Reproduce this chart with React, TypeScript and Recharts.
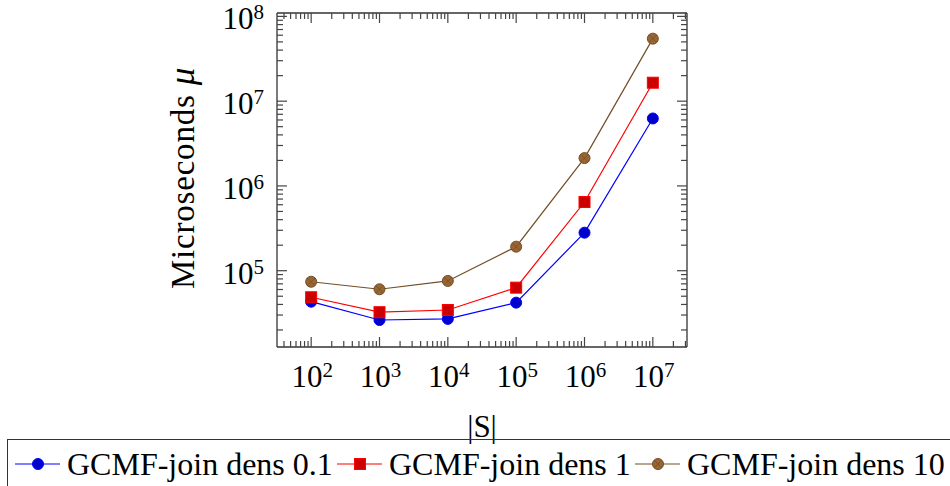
import React from 'react';
import { LineChart, Line, XAxis, YAxis } from 'recharts';

// |S| values and timings (microseconds) for each density
const sizes = [1e2, 1e3, 1e4, 1e5, 1e6, 1e7];
const dens01 = [43100, 26200, 27000, 42000, 281000, 6250000];
const dens1 = [48600, 32400, 34400, 63100, 646000, 16500000];
const dens10 = [74100, 60400, 75700, 192000, 2130000, 54600000];

const seriesNames = ['GCMF-join dens 0.1', 'GCMF-join dens 1', 'GCMF-join dens 10'];

const xDecades = [1, 2, 3, 4, 5, 6, 7];
const yDecades = [4, 5, 6, 7, 8];

const xDomain: [number, number] = [Math.pow(10, 1.5), Math.pow(10, 7.5)];
const yDomain: [number, number] = [Math.pow(10, 4.1), Math.pow(10, 8.04)];

const data = sizes.map((s, i) => ({ s, d01: dens01[i], d1: dens1[i], d10: dens10[i] }));

const FONT = '"Liberation Serif", "Times New Roman", serif';
const TICK_COLOR = '#444';

const buildTicks = (decades: number[], domain: [number, number]) => {
  const out: number[] = [];
  decades.forEach((k) => {
    for (let m = 1; m <= 9; m++) {
      const v = m * Math.pow(10, k);
      if (v >= domain[0] && v <= domain[1]) out.push(v);
    }
  });
  return out;
};

const xTicks = buildTicks(xDecades, xDomain);
const yTicks = buildTicks(yDecades, yDomain);

const majorExp = (v: number) => {
  const e = Math.round(Math.log10(v));
  return Math.abs(Math.pow(10, e) - v) < 1e-6 * v ? e : null;
};

const PowLabel = ({ x, y, exp, anchor }: { x: number; y: number; exp: number; anchor: 'middle' | 'end' }) => (
  <text x={x} y={y} textAnchor={anchor} fontFamily={FONT} fontSize={31} fill="#000">
    10
    <tspan dy={-10} fontSize={21}>{exp}</tspan>
  </text>
);

const XTick = ({ x, y, payload, top }: any) => {
  const e = majorExp(payload.value);
  const len = e !== null ? 10 : 6;
  const dir = top ? 1 : -1;
  return (
    <g>
      <line x1={x} x2={x} y1={y} y2={y + dir * len} stroke={TICK_COLOR} strokeWidth={1.2} />
      {!top && e !== null && <PowLabel x={x + 1} y={y + 40} exp={e} anchor="middle" />}
    </g>
  );
};

const YTick = ({ x, y, payload, right }: any) => {
  const e = majorExp(payload.value);
  const len = e !== null ? 10 : 6;
  const dir = right ? -1 : 1;
  return (
    <g>
      <line x1={x} x2={x + dir * len} y1={y} y2={y} stroke={TICK_COLOR} strokeWidth={1.2} />
      {!right && e !== null && <PowLabel x={x - 13} y={y + 13} exp={e} anchor="end" />}
    </g>
  );
};

const XTitle = ({ viewBox }: any) => (
  <text x={viewBox.x + viewBox.width / 2} y={viewBox.y + 90} textAnchor="middle" fontFamily={FONT} fontSize={31}>
    |S|
  </text>
);

const YTitle = ({ viewBox }: any) => {
  const cx = 194;
  const cy = viewBox.y + viewBox.height / 2 - 2;
  return (
    <text x={cx} y={cy} transform={`rotate(-90 ${cx} ${cy})`} textAnchor="middle" fontFamily={FONT} fontSize={33} letterSpacing={0.8}>
      Microseconds <tspan fontStyle="italic" fontSize={35}>μ</tspan>
    </text>
  );
};

const styles = [
  { stroke: '#0000ff', fill: '#0000cc', shape: 'circle' },
  { stroke: '#ff0000', fill: '#cc0000', shape: 'square' },
  { stroke: '#734d26', fill: '#996633', shape: 'otimes' },
];

const Mark = ({ cx, cy, idx }: { cx: number; cy: number; idx: number }) => {
  const st = styles[idx];
  const r = 5.5;
  if (st.shape === 'square') {
    return <rect x={cx - r} y={cy - r} width={2 * r} height={2 * r} fill={st.fill} stroke={st.stroke} strokeWidth={1} />;
  }
  if (st.shape === 'otimes') {
    const d = r * 0.707;
    return (
      <g>
        <circle cx={cx} cy={cy} r={r} fill={st.fill} stroke={st.stroke} strokeWidth={1} />
        <line x1={cx - d} y1={cy - d} x2={cx + d} y2={cy + d} stroke={st.stroke} strokeWidth={0.8} />
        <line x1={cx - d} y1={cy + d} x2={cx + d} y2={cy - d} stroke={st.stroke} strokeWidth={0.8} />
      </g>
    );
  }
  return <circle cx={cx} cy={cy} r={r} fill={st.fill} stroke={st.stroke} strokeWidth={1} />;
};

const makeDot = (idx: number) => (props: any) => (
  <Mark key={`m-${idx}-${props.index}`} cx={props.cx} cy={props.cy} idx={idx} />
);

const legendPos = [15, 337, 635];

const Legend = () => (
  <div
    style={{
      position: 'absolute',
      left: 7,
      top: 439,
      width: 1000,
      height: 80,
      border: '1.3px solid #333',
      boxSizing: 'border-box',
    }}
  >
    {seriesNames.map((name, i) => (
      <div key={name} style={{ position: 'absolute', left: legendPos[i] - 8, top: 0, height: 48, display: 'flex', alignItems: 'center' }}>
        <svg width={46} height={20} style={{ overflow: 'visible' }}>
          <line x1={0} x2={45} y1={10} y2={10} stroke={styles[i].stroke} strokeWidth={1.2} />
          <Mark cx={23} cy={10} idx={i} />
        </svg>
        <span style={{ fontFamily: FONT, fontSize: 32, marginLeft: 6, whiteSpace: 'nowrap', lineHeight: '32px' }}>{name}</span>
      </div>
    ))}
  </div>
);

export default function App() {
  return (
    <div style={{ position: 'absolute', left: 0, top: 0, width: 950, height: 486, overflow: 'hidden', background: '#fff' }}>
      <LineChart width={950} height={486} data={data} margin={{ top: 0, right: 0, bottom: 0, left: 0 }}>
        <XAxis
          xAxisId="b"
          dataKey="s"
          type="number"
          scale="log"
          domain={xDomain}
          allowDataOverflow
          ticks={xTicks}
          interval={0}
          tickSize={0}
          tickMargin={0}
          tick={<XTick />}
          height={139}
          axisLine={{ stroke: '#333', strokeWidth: 1.3 }}
          label={<XTitle />}
        />
        <XAxis
          xAxisId="t"
          orientation="top"
          dataKey="s"
          type="number"
          scale="log"
          domain={xDomain}
          allowDataOverflow
          ticks={xTicks}
          interval={0}
          tickSize={0}
          tickMargin={0}
          tick={<XTick top />}
          height={13}
          axisLine={{ stroke: '#333', strokeWidth: 1.3 }}
        />
        <YAxis
          yAxisId="l"
          type="number"
          scale="log"
          domain={yDomain}
          allowDataOverflow
          ticks={yTicks}
          interval={0}
          tickSize={0}
          tickMargin={0}
          tick={<YTick />}
          width={277}
          axisLine={{ stroke: '#333', strokeWidth: 1.3 }}
          label={<YTitle />}
        />
        <YAxis
          yAxisId="r"
          orientation="right"
          type="number"
          scale="log"
          domain={yDomain}
          allowDataOverflow
          ticks={yTicks}
          interval={0}
          tickSize={0}
          tickMargin={0}
          tick={<YTick right />}
          width={263}
          axisLine={{ stroke: '#333', strokeWidth: 1.3 }}
        />
        <Line xAxisId="b" yAxisId="l" dataKey="d01" stroke={styles[0].stroke} strokeWidth={1.2} dot={makeDot(0)} isAnimationActive={false} />
        <Line xAxisId="b" yAxisId="l" dataKey="d1" stroke={styles[1].stroke} strokeWidth={1.2} dot={makeDot(1)} isAnimationActive={false} />
        <Line xAxisId="b" yAxisId="l" dataKey="d10" stroke={styles[2].stroke} strokeWidth={1.2} dot={makeDot(2)} isAnimationActive={false} />
      </LineChart>
      <Legend />
    </div>
  );
}
